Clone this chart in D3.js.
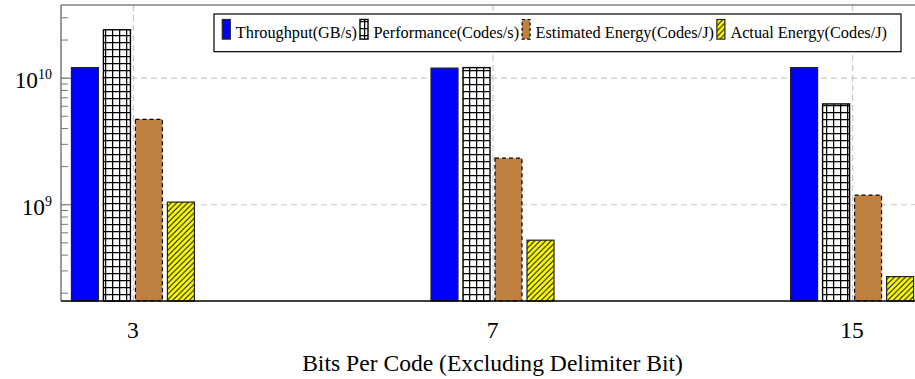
<!DOCTYPE html>
<html>
<head>
<meta charset="utf-8">
<script src="https://cdn.jsdelivr.net/npm/d3@7"></script>
<style>
  html, body { margin: 0; padding: 0; background: #fff; }
  svg { display: block; font-family: "Liberation Serif", "Times New Roman", Times, serif; }
</style>
</head>
<body>
<svg id="chart" width="915" height="379"></svg>
<script>
// ---- data ----
const categories = ["3", "7", "15"];
const seriesNames = ["Throughput(GB/s)", "Performance(Codes/s)", "Estimated Energy(Codes/J)", "Actual Energy(Codes/J)"];
const throughput = [1.2e10, 1.19e10, 1.2e10];
const performance = [2.39e10, 1.2e10, 6.2e9];
const estimatedEnergy = [4.69e9, 2.31e9, 1.18e9];
const actualEnergy = [1.04e9, 5.2e8, 2.68e8];
const yMajorTicks = [1e9, 1e10];
const yMajorLabels = [["10", "9"], ["10", "10"]];
const yDomain = [1.72e8, 3.75e10];
const xLabel = "Bits Per Code (Excluding Delimiter Bit)";

// ---- layout ----
const svg = d3.select("#chart");
const plotLeft = 61, plotTop = 5, plotW = 863, plotH = 296;
const plotBottom = plotTop + plotH;

const defs = svg.append("defs");
const gp = defs.append("pattern").attr("id", "gridPat").attr("patternUnits", "userSpaceOnUse")
  .attr("width", 7).attr("height", 7);
gp.append("rect").attr("width", 7).attr("height", 7).attr("fill", "#fff");
gp.append("path").attr("d", "M0,0.6 H7 M0.6,0 V7").attr("stroke", "#000").attr("stroke-width", 1.3);

const dp = defs.append("pattern").attr("id", "diagPat").attr("patternUnits", "userSpaceOnUse")
  .attr("width", 5.5).attr("height", 5.5);
dp.append("rect").attr("width", 5.5).attr("height", 5.5).attr("fill", "#ffff00");
dp.append("path").attr("d", "M0,5.5 L5.5,0 M-1,1 L1,-1 M4.5,6.5 L6.5,4.5")
  .attr("stroke", "#000").attr("stroke-width", 1);

const series = [
  { name: seriesNames[0], values: throughput, fill: "#0000ff", stroke: "#222", dash: null, sw: 1.2 },
  { name: seriesNames[1], values: performance, fill: "url(#gridPat)", stroke: "#000", dash: null, sw: 1.4 },
  { name: seriesNames[2], values: estimatedEnergy, fill: "#bf8040", stroke: "#000", dash: "4,3", sw: 1.2 },
  { name: seriesNames[3], values: actualEnergy, fill: "url(#diagPat)", stroke: "#222", dash: null, sw: 1.2 }
];

const x = d3.scalePoint().domain(categories).range([plotLeft, plotLeft + plotW]).padding(0.2);
const xInner = d3.scaleBand().domain(seriesNames).range([-61.5, 61.5]).paddingInner(5 / 32).paddingOuter(0);
const y = d3.scaleLog().domain(yDomain).range([plotBottom, plotTop]);

// ---- grid ----
const gridColor = "#c8c8c8";
svg.append("g").attr("transform", `translate(${plotLeft},0)`)
  .call(d3.axisLeft(y).tickValues(yMajorTicks).tickSize(-plotW).tickFormat(""))
  .call(g => g.select(".domain").remove())
  .call(g => g.selectAll("line").attr("stroke", gridColor).attr("stroke-dasharray", "6,4").attr("stroke-width", 1.2));
svg.append("g").attr("transform", `translate(0,${plotBottom})`)
  .call(d3.axisBottom(x).tickSize(-plotH).tickFormat(""))
  .call(g => g.select(".domain").remove())
  .call(g => g.selectAll("line").attr("stroke", gridColor).attr("stroke-dasharray", "6,4").attr("stroke-width", 1.2));

// ---- bars ----
series.forEach(s => {
  svg.append("g").selectAll("rect").data(categories).join("rect")
    .attr("x", (c) => x(c) + xInner(s.name))
    .attr("width", xInner.bandwidth())
    .attr("y", (c, i) => y(s.values[i]))
    .attr("height", (c, i) => plotBottom - y(s.values[i]))
    .attr("fill", s.fill)
    .attr("stroke", s.stroke)
    .attr("stroke-width", s.sw)
    .attr("stroke-dasharray", s.dash);
});

// ---- axis frame ----
svg.append("line").attr("x1", plotLeft).attr("x2", plotLeft + plotW).attr("y1", plotTop).attr("y2", plotTop)
  .attr("stroke", "#444").attr("stroke-width", 1.2);
svg.append("line").attr("x1", plotLeft).attr("x2", plotLeft).attr("y1", plotTop).attr("y2", plotBottom)
  .attr("stroke", "#555").attr("stroke-width", 1.2);
svg.append("line").attr("x1", plotLeft).attr("x2", plotLeft + plotW).attr("y1", plotBottom).attr("y2", plotBottom)
  .attr("stroke", "#000").attr("stroke-width", 1.5);

// minor ticks (inward)
const minorTicks = y.ticks().filter(v => yMajorTicks.indexOf(v) < 0);
svg.append("g").attr("transform", `translate(${plotLeft},0)`)
  .call(d3.axisRight(y).tickValues(minorTicks).tickSize(7).tickFormat(""))
  .call(g => g.select(".domain").remove())
  .call(g => g.selectAll("line").attr("stroke", "#777").attr("stroke-width", 1));
// major ticks (inward) with labels
svg.append("g").attr("transform", `translate(${plotLeft},0)`)
  .call(d3.axisRight(y).tickValues(yMajorTicks).tickSize(10).tickFormat(""))
  .call(g => g.select(".domain").remove())
  .call(g => g.selectAll("line").attr("stroke", "#666").attr("stroke-width", 1));
yMajorTicks.forEach((v, i) => {
  const t = svg.append("text")
    .attr("x", plotLeft - 9)
    .attr("y", y(v) + 10.6)
    .attr("text-anchor", "end")
    .attr("font-size", 23.3)
    .attr("fill", "#000");
  t.append("tspan").text(yMajorLabels[i][0]);
  t.append("tspan").attr("dy", -9).attr("font-size", 14).text(yMajorLabels[i][1]);
});

// x tick labels
svg.append("g").selectAll("text").data(categories).join("text")
  .attr("x", d => x(d))
  .attr("y", 338)
  .attr("text-anchor", "middle")
  .attr("font-size", 23.5)
  .attr("fill", "#000")
  .text(d => d);

// x axis label
svg.append("text")
  .attr("x", plotLeft + plotW / 2)
  .attr("y", 371)
  .attr("text-anchor", "middle")
  .attr("font-size", 23.6)
  .attr("fill", "#000")
  .text(xLabel);

// ---- legend ----
const legend = svg.append("g");
const box = legend.append("rect").attr("fill", "#fff").attr("stroke", "#000").attr("stroke-width", 1.2);
const lx0 = 214, ly0 = 14, lh = 37.7;
let cx = lx0 + 8.3;
series.forEach(s => {
  legend.append("rect")
    .attr("x", cx).attr("y", 19.5).attr("width", 8).attr("height", 19.6)
    .attr("fill", s.fill).attr("stroke", s.stroke).attr("stroke-width", s.sw)
    .attr("stroke-dasharray", s.dash ? "3,2.5" : null);
  cx += 8 + 5.5;
  const t = legend.append("text")
    .attr("x", cx).attr("y", 37.5)
    .attr("font-size", 16.3)
    .attr("fill", "#000")
    .text(s.name);
  cx += t.node().getComputedTextLength() + 3;
});
box.attr("x", lx0).attr("y", ly0).attr("width", cx - 3 + 14 - lx0).attr("height", lh);
</script>
</body>
</html>
